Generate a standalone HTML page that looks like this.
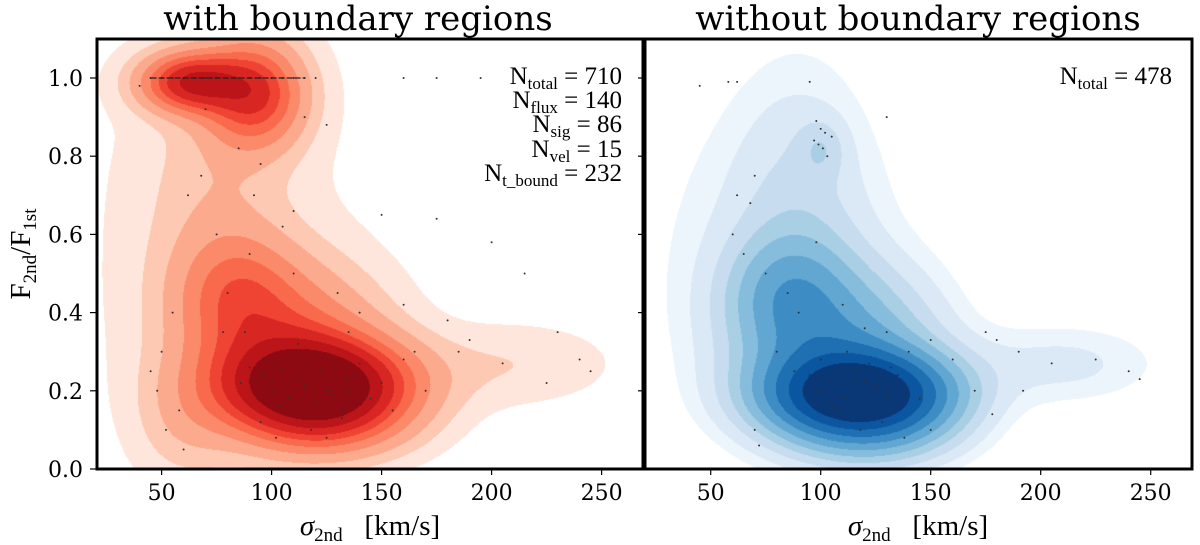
<!DOCTYPE html>
<html><head><meta charset="utf-8"><style>
body{margin:0;background:#fff;}
#wrap{position:relative;width:1200px;height:545px;overflow:hidden;font-family:"DejaVu Serif","Liberation Serif",serif;}
canvas{position:absolute;}
svg{position:absolute;left:0;top:0;}
</style></head><body>
<div id="wrap">
<canvas id="cL" width="546" height="430" style="left:97px;top:39px"></canvas>
<canvas id="cR" width="547" height="430" style="left:645px;top:39px"></canvas>
<svg id="s" width="1200" height="545"></svg>
</div>
<script>
// axis ticks
const xTicks=[50,100,150,200,250];
const yTicks=[0.0,0.2,0.4,0.6,0.8,1.0];
// red (with boundary) mixture components: x, y, sx, sy, weight
const redCx=[120,108,85,75,75,63,92,210,60,125];
const redCy=[0.21,0.33,0.45,0.6,0.6,0.99,0.96,0.27,0.12,0.1];
const redSx=[28,28,18,20,40,15,15,30,15,25];
const redSy=[0.08,0.13,0.1,0.25,0.4,0.05,0.09,0.07,0.1,0.06];
const redW=[1.0,0.3,0.22,0.08,0.05,0.6,0.5,0.065,0.08,0.15];
const redLevels=[0.025,0.07,0.13,0.22,0.32,0.42,0.52,0.65,0.8];
const redColors=['#fee6dc','#fdc9b3','#fcaa8e','#fb8a6a','#f9694c','#ef4333','#d82723','#bb151a','#8e0a12'];
// blue (without boundary)
const blueCx=[118,108,85,90,80,100,210,125];
const blueCy=[0.19,0.31,0.45,0.65,0.55,0.82,0.27,0.08];
const blueSx=[26,28,18,20,40,7,30,25];
const blueSy=[0.07,0.13,0.1,0.25,0.28,0.05,0.07,0.06];
const blueW=[1.0,0.3,0.2,0.07,0.05,0.07,0.06,0.12];
const blueLevels=[0.027,0.05,0.09,0.14,0.2,0.28,0.38,0.5,0.65,0.82];
const blueColors=['#ecf4fc','#dbe9f6','#c7dcef','#a9cfe5','#86bcdc','#61a7d2','#3d8dc4','#1f6fb3','#0b56a0','#0a3877'];
// scatter points (estimated)
const ptsX=[45,50,55,60,65,70,75,80,85,90,95,100,105,110,115,120,160,175,195,40,70,115,125,95,85,150,175,200,215,230,240,245,180,190,165,60,52,48,58,75,90,110,130,140,120,105,100,135,145,155,98,112,128,138,88,95,102,118,132,150,160,170,185,205,225,55,62,68,45,50,105,110,80,78,92,135,160,125,100,108,115,122,128,134,140,96,104,112,120,126,132,90,86];
const ptsY=[1.0,1.0,1.0,1.0,1.0,1.0,1.0,1.0,1.0,1.0,1.0,1.0,1.0,1.0,1.0,1.0,1.0,1.0,1.0,0.98,0.92,0.9,0.88,0.78,0.82,0.65,0.64,0.58,0.5,0.35,0.28,0.25,0.38,0.33,0.3,0.05,0.1,0.2,0.15,0.6,0.55,0.5,0.45,0.4,0.3,0.25,0.22,0.2,0.18,0.15,0.28,0.32,0.26,0.24,0.35,0.12,0.08,0.1,0.13,0.22,0.28,0.2,0.3,0.27,0.22,0.4,0.7,0.75,0.25,0.3,0.62,0.66,0.45,0.35,0.7,0.35,0.42,0.08,0.2,0.18,0.21,0.25,0.19,0.23,0.27,0.24,0.16,0.23,0.17,0.2,0.15,0.26,0.22];
const ptsRX=[45,58,62,95,98,100,102,105,97,99,101,103,130,70,60,65,75,85,90,110,120,130,140,150,160,100,105,115,125,135,145,170,190,205,225,240,245,180,175,150,80,88,92,108,118,128,138,70,72,112,122,132,62,68,98,178,192,100,110,120,130,95,105,115,125];
const ptsRY=[0.98,0.99,0.99,0.99,0.89,0.87,0.86,0.85,0.84,0.83,0.82,0.8,0.9,0.75,0.6,0.55,0.5,0.45,0.4,0.42,0.36,0.35,0.3,0.33,0.28,0.28,0.25,0.22,0.2,0.24,0.18,0.2,0.3,0.27,0.28,0.25,0.23,0.33,0.35,0.1,0.3,0.25,0.2,0.15,0.1,0.12,0.08,0.1,0.06,0.3,0.27,0.26,0.7,0.68,0.58,0.14,0.2,0.2,0.18,0.22,0.19,0.24,0.16,0.25,0.21];

const xL=v=>161.6+(v-50)*2.2, xR=v=>710.7+(v-50)*2.2, yS=v=>469-v*391;

function draw(id,x0,cx,cy,sx,sy,w,lev,col){
  const c=document.getElementById(id),g=c.getContext('2d');
  const W=c.width,H=c.height,img=g.createImageData(W,H);
  const rgb=col.map(h=>[parseInt(h.substr(1,2),16),parseInt(h.substr(3,2),16),parseInt(h.substr(5,2),16)]);
  const ox=parseFloat(c.style.left),oy=parseFloat(c.style.top);
  for(let py=0;py<H;py++){const yv=(469-(py+oy))/391;
    for(let px=0;px<W;px++){const xv=50+((px+ox)-x0)/2.2;
      let d=0;for(let k=0;k<cx.length;k++){const a=(xv-cx[k])/sx[k],b=(yv-cy[k])/sy[k];d+=w[k]*Math.exp(-0.5*(a*a+b*b));}
      let li=-1;for(let l=0;l<lev.length;l++)if(d>=lev[l])li=l;
      const i=(py*W+px)*4;let r=255,gg=255,bb=255;if(li>=0){[r,gg,bb]=rgb[li];}
      img.data[i]=r;img.data[i+1]=gg;img.data[i+2]=bb;img.data[i+3]=255;}}
  g.putImageData(img,0,0);
}
draw('cL',161.6,redCx,redCy,redSx,redSy,redW,redLevels,redColors);
draw('cR',710.7,blueCx,blueCy,blueSx,blueSy,blueW,blueLevels,blueColors);

const s=document.getElementById('s'),NS='http://www.w3.org/2000/svg';
function el(t,a,txt){const e=document.createElementNS(NS,t);for(const k in a)e.setAttribute(k,a[k]);if(txt!==undefined)e.textContent=txt;s.appendChild(e);return e;}
ptsX.forEach((v,i)=>{const e=el('circle',{cx:xL(v),cy:yS(ptsY[i]),r:1,fill:'#333'});

});
ptsRX.forEach((v,i)=>{const e=el('circle',{cx:xR(v),cy:yS(ptsRY[i]),r:1,fill:'#333'});

});
let dl=el('line',{x1:xL(45),x2:xL(115),y1:yS(1),y2:yS(1),stroke:'#222','stroke-width':1.3,'stroke-dasharray':'6 2'});


let f=el('rect',{x:97,y:39,width:546,height:430,fill:'none',stroke:'#000','stroke-width':3});


f=el('rect',{x:645,y:39,width:547,height:430,fill:'none',stroke:'#000','stroke-width':3});


xTicks.forEach(v=>{[xL,xR].forEach(fx=>{
  let t=el('line',{x1:fx(v),x2:fx(v),y1:469,y2:475,stroke:'#000','stroke-width':1.2});
  
  
  let l=el('text',{x:fx(v),y:500,'font-size':22,'text-anchor':'middle','font-family':'DejaVu Serif, serif'},String(v));
  
  });});
yTicks.forEach(v=>{
  let t=el('line',{x1:90,x2:97,y1:yS(v),y2:yS(v),stroke:'#000','stroke-width':1.2});
  
  
  t=el('line',{x1:638,x2:645,y1:yS(v),y2:yS(v),stroke:'#000','stroke-width':1.2});
  
  
  let l=el('text',{x:83,y:yS(v)+8,'font-size':22,'text-anchor':'end','font-family':'DejaVu Serif, serif'},v.toFixed(1));
  
  });
</script>
<svg width="1200" height="545" style="position:absolute;left:0;top:0">
<text x="358" y="30" font-size="34" text-anchor="middle" font-family="DejaVu Serif, serif">with boundary regions</text>
<text x="918" y="30" font-size="34" text-anchor="middle" font-family="DejaVu Serif, serif">without boundary regions</text>
<g font-family="Liberation Serif, serif" font-size="25" text-anchor="end">
<text x="622" y="84">N<tspan font-size="17" dy="5">total</tspan><tspan dy="-5"> = 710</tspan></text>
<text x="622" y="108">N<tspan font-size="17" dy="5">flux</tspan><tspan dy="-5"> = 140</tspan></text>
<text x="622" y="132">N<tspan font-size="17" dy="5">sig</tspan><tspan dy="-5"> = 86</tspan></text>
<text x="622" y="157">N<tspan font-size="17" dy="5">vel</tspan><tspan dy="-5"> = 15</tspan></text>
<text x="622" y="181">N<tspan font-size="17" dy="5">t_bound</tspan><tspan dy="-5"> = 232</tspan></text>
</g>
<text x="1172" y="84" font-family="Liberation Serif, serif" font-size="25" text-anchor="end">N<tspan font-size="17" dy="5">total</tspan><tspan dy="-5"> = 478</tspan></text>
<text x="370" y="535" font-family="Liberation Serif, serif" font-size="29" text-anchor="middle"><tspan font-style="italic">σ</tspan><tspan font-size="19" dy="6">2nd</tspan><tspan dy="-6" xml:space="preserve">   [km/s]</tspan></text>
<text x="918" y="535" font-family="Liberation Serif, serif" font-size="29" text-anchor="middle"><tspan font-style="italic">σ</tspan><tspan font-size="19" dy="6">2nd</tspan><tspan dy="-6" xml:space="preserve">   [km/s]</tspan></text>
<text transform="translate(30,254) rotate(-90)" font-family="Liberation Serif, serif" font-size="29" text-anchor="middle">F<tspan font-size="19" dy="6">2nd</tspan><tspan dy="-6">/F</tspan><tspan font-size="19" dy="6">1st</tspan></text>
</svg>
</body></html>
